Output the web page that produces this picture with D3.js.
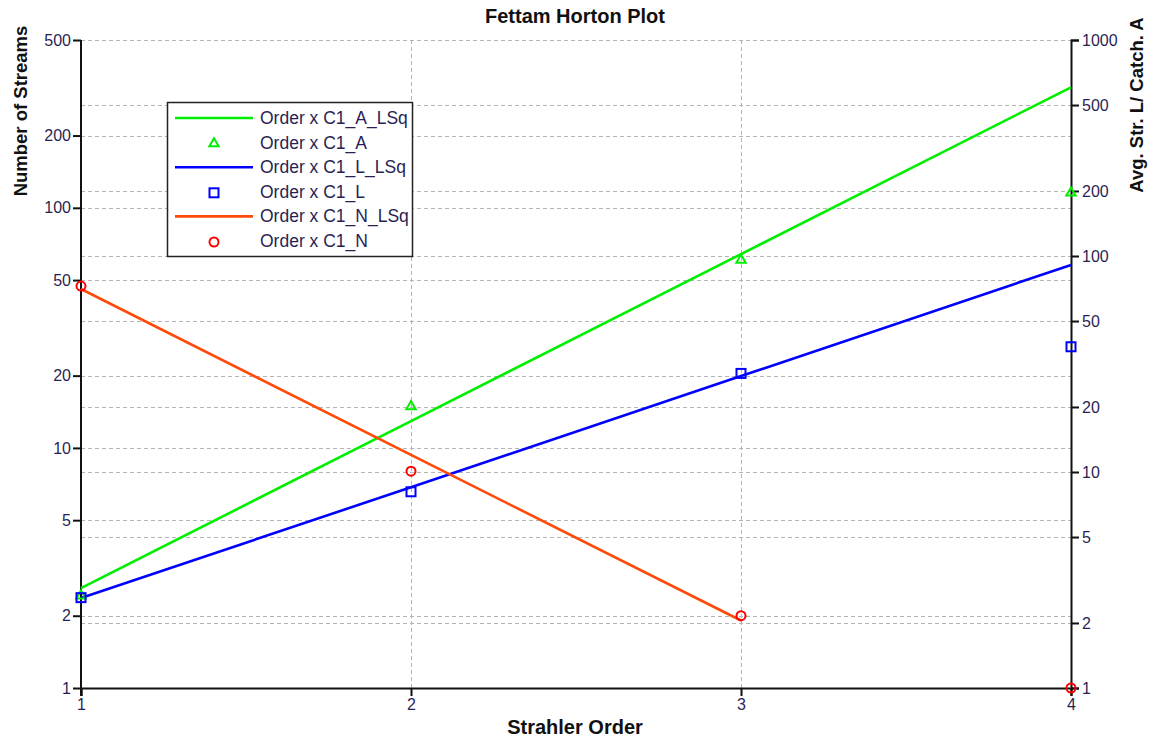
<!DOCTYPE html>
<html>
<head>
<meta charset="utf-8">
<script src="https://cdn.jsdelivr.net/npm/d3@7"></script>
<style>
  html, body { margin: 0; padding: 0; background: #fff; }
  svg { display: block; font-family: Arial, "Liberation Sans", sans-serif; }
</style>
</head>
<body>
<svg id="chart" width="1151" height="740"></svg>
<script>
// Strahler orders on the x axis
const orders = [1, 2, 3, 4];

// Observed values per order
const nStreams   = [47.2, 8.0, 2.0, 1.0];     // C1_N, left axis
const avgLength  = [2.62, 8.1, 28.6, 38.0];   // C1_L, right axis
const catchArea  = [2.67, 20.1, 95.8, 196];   // C1_A, right axis

// Least-squares fit lines per order
const nStreamsFit  = [45.9, 9.35, 1.91];      // C1_N_LSq (orders 1-3)
const avgLengthFit = [2.61, 8.5, 27.8, 90.9]; // C1_L_LSq
const catchAreaFit = [2.9, 17.2, 102, 604];   // C1_A_LSq

// Axis ticks
const xTicks      = [1, 2, 3, 4];
const leftTicks   = [1, 2, 5, 10, 20, 50, 100, 200, 500];
const rightTicks  = [1, 2, 5, 10, 20, 50, 100, 200, 500, 1000];

const legendItems = [
  { label: "Order x C1_A_LSq", type: "line",   color: "#00ee00" },
  { label: "Order x C1_A",     type: "tri",    color: "#00ee00" },
  { label: "Order x C1_L_LSq", type: "line",   color: "#0000ff" },
  { label: "Order x C1_L",     type: "square", color: "#0000ff" },
  { label: "Order x C1_N_LSq", type: "line",   color: "#ff4a0a" },
  { label: "Order x C1_N",     type: "circle", color: "#ff0000" }
];

const svg = d3.select("#chart");
const plotL = 81, plotR = 1071, plotT = 40, plotB = 688;

const x = d3.scaleLinear().domain([1, 4]).range([plotL, plotR]);
const yL = d3.scaleLog().domain([1, 500]).range([plotB, plotT]);
const yR = d3.scaleLog().domain([1, 1000]).range([plotB, plotT]);

const grid = svg.append("g")
  .attr("stroke", "#b4b4b4").attr("stroke-width", 1)
  .attr("stroke-dasharray", "4,3").attr("fill", "none");

// horizontal gridlines from both value axes
leftTicks.filter(v => v > 1).forEach(v => {
  const yy = Math.round(yL(v)) + 0.5;
  grid.append("line").attr("x1", plotL).attr("x2", plotR).attr("y1", yy).attr("y2", yy);
});
rightTicks.filter(v => v > 1).forEach(v => {
  const yy = Math.round(yR(v)) + 0.5;
  grid.append("line").attr("x1", plotL).attr("x2", plotR).attr("y1", yy).attr("y2", yy);
});
// vertical gridlines
xTicks.filter(v => v > 1 && v < 4).forEach(v => {
  const xx = Math.round(x(v)) + 0.5;
  grid.append("line").attr("x1", xx).attr("x2", xx).attr("y1", plotT).attr("y2", plotB);
});

const fmt = d3.format("d");

// Left axis
const axL = svg.append("g").attr("transform", `translate(${plotL},0)`)
  .call(d3.axisLeft(yL).tickValues(leftTicks).tickFormat(fmt).tickSizeOuter(0).tickSize(8).tickPadding(2));
// Right axis
const axR = svg.append("g").attr("transform", `translate(${plotR},0)`)
  .call(d3.axisRight(yR).tickValues(rightTicks).tickFormat(fmt).tickSizeOuter(0).tickSize(8).tickPadding(3));
// Bottom axis
const axB = svg.append("g").attr("transform", `translate(0,${plotB})`)
  .call(d3.axisBottom(x).tickValues(xTicks).tickFormat(fmt).tickSizeOuter(0).tickSize(8).tickPadding(3));

[axL, axR, axB].forEach(a => {
  a.select(".domain").attr("stroke", "#111").attr("stroke-width", 2);
  a.selectAll(".tick line").attr("stroke", "#111").attr("stroke-width", 2);
  a.selectAll(".tick text").attr("fill", "#2a1f55").attr("font-size", 16)
    .attr("font-family", "Arial, 'Liberation Sans', sans-serif");
});
axL.select(".domain").attr("d", `M0,${plotT}V${plotB + 8}`);

// Titles
svg.append("text").attr("x", 575).attr("y", 23).attr("text-anchor", "middle")
  .attr("font-weight", "bold").attr("font-size", 20).attr("fill", "#111")
  .text("Fettam Horton Plot");
svg.append("text").attr("x", 575).attr("y", 734).attr("text-anchor", "middle")
  .attr("font-weight", "bold").attr("font-size", 20).attr("fill", "#111")
  .text("Strahler Order");
svg.append("text").attr("transform", "translate(27,111) rotate(-90)").attr("text-anchor", "middle")
  .attr("font-weight", "bold").attr("font-size", 18.5).attr("fill", "#111")
  .text("Number of Streams");
svg.append("text").attr("transform", "translate(1143,105) rotate(-90)").attr("text-anchor", "middle")
  .attr("font-weight", "bold").attr("font-size", 18.5).attr("fill", "#111")
  .text("Avg. Str. L/ Catch. A");

const plot = svg.append("g");

function fitLine(values, yScale, color) {
  const line = d3.line().x((d, i) => x(orders[i])).y(d => yScale(d));
  plot.append("path").datum(values).attr("d", line)
    .attr("fill", "none").attr("stroke", color).attr("stroke-width", 2.6);
}

fitLine(catchAreaFit, yR, "#00ee00");
fitLine(avgLengthFit, yR, "#0000ff");
fitLine(nStreamsFit, yL, "#ff4a0a");

const triSym = d3.symbol().type(d3.symbolTriangle).size(38);

function drawMarker(g, type, color, cx, cy) {
  if (type === "tri") {
    g.append("path").attr("d", triSym()).attr("transform", `translate(${cx},${cy})`)
      .attr("fill", "none").attr("stroke", color).attr("stroke-width", 2);
  } else if (type === "square") {
    g.append("rect").attr("x", cx - 4.5).attr("y", cy - 4.5).attr("width", 9).attr("height", 9)
      .attr("fill", "none").attr("stroke", color).attr("stroke-width", 2);
  } else if (type === "circle") {
    g.append("circle").attr("cx", cx).attr("cy", cy).attr("r", 4.5)
      .attr("fill", "none").attr("stroke", color).attr("stroke-width", 2);
  }
}

catchArea.forEach((v, i) => drawMarker(plot, "tri", "#00ee00", x(orders[i]), yR(v)));
avgLength.forEach((v, i) => drawMarker(plot, "square", "#0000ff", x(orders[i]), yR(v)));
nStreams.forEach((v, i) => drawMarker(plot, "circle", "#ff0000", x(orders[i]), yL(v)));

// Legend
const lg = svg.append("g").attr("transform", "translate(167,102)");
lg.append("rect").attr("x", 0.5).attr("y", 0.5).attr("width", 245).attr("height", 154)
  .attr("fill", "#fff").attr("stroke", "#222").attr("stroke-width", 1.5);
legendItems.forEach((d, i) => {
  const yy = 16 + i * 24.6;
  if (d.type === "line") {
    lg.append("line").attr("x1", 8).attr("x2", 86).attr("y1", yy).attr("y2", yy)
      .attr("stroke", d.color).attr("stroke-width", 2.6);
  } else {
    drawMarker(lg, d.type, d.color, 47, yy + 1);
  }
  lg.append("text").attr("x", 93).attr("y", yy + 6).attr("font-size", 17.5)
    .attr("fill", "#2a1f55").text(d.label);
});
</script>
</body>
</html>
